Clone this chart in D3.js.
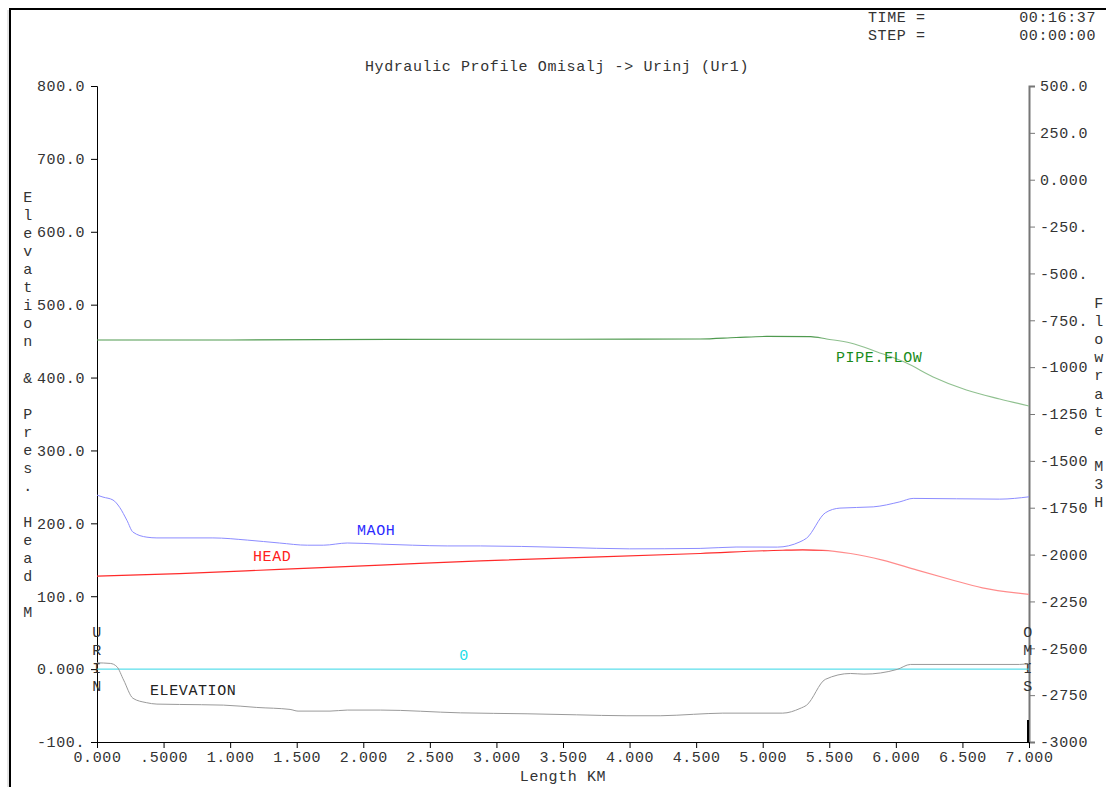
<!DOCTYPE html>
<html>
<head>
<meta charset="utf-8">
<script src="https://cdn.jsdelivr.net/npm/d3@7"></script>
<style>
  html, body { margin: 0; padding: 0; background: #fff; }
  svg { display: block; }
  text { font-family: "Liberation Mono", "Courier New", monospace; font-size: 15px; fill: #333; letter-spacing: 0.6px; }
</style>
</head>
<body>
<svg id="chart" width="1106" height="787"></svg>
<script>
// ---- data ----
const xTickValues = [0, 0.5, 1, 1.5, 2, 2.5, 3, 3.5, 4, 4.5, 5, 5.5, 6, 6.5, 7];
const xTickLabels = ["0.000", ".5000", "1.000", "1.500", "2.000", "2.500", "3.000", "3.500", "4.000", "4.500", "5.000", "5.500", "6.000", "6.500", "7.000"];
const leftTickValues = [-100, 0, 100, 200, 300, 400, 500, 600, 700, 800];
const leftTickLabels = ["-100.", "0.000", "100.0", "200.0", "300.0", "400.0", "500.0", "600.0", "700.0", "800.0"];
const rightTickValues = [-3000, -2750, -2500, -2250, -2000, -1750, -1500, -1250, -1000, -750, -500, -250, 0, 250, 500];
const rightTickLabels = ["-3000", "-2750", "-2500", "-2250", "-2000", "-1750", "-1500", "-1250", "-1000", "-750.", "-500.", "-250.", "0.000", "250.0", "500.0"];

const elevKm = [0, 0.1, 0.15, 0.2, 0.27, 0.37, 0.45, 0.62, 0.95, 1.2, 1.45, 1.51, 1.75, 1.88, 2.13, 2.73, 3.23, 3.6, 3.98, 4.23, 4.48, 4.7, 5.15, 5.28, 5.33, 5.47, 5.66, 5.76, 6.01, 6.11, 6.93, 7.0];
const elevation = [8.6, 7.8, 3.2, -15, -40, -46, -48, -48.5, -49.4, -52.6, -55.3, -57.6, -57.6, -56.2, -56.2, -60, -61.3, -62.7, -64, -64, -62, -60.4, -60.4, -54, -49.4, -14.1, -6, -6.9, -0.4, 6.4, 6.4, 7.8];

const maohKm = [0, 0.045, 0.12, 0.17, 0.225, 0.27, 0.375, 0.45, 0.87, 1.13, 1.37, 1.58, 1.70, 1.88, 2.13, 2.37, 2.63, 2.88, 3.5, 4.0, 4.53, 4.8, 5.11, 5.28, 5.33, 5.47, 5.58, 5.83, 6.03, 6.13, 6.78, 7.0];
const maoh = [238.7, 236, 232, 222, 204, 188, 181, 180, 180, 177, 173, 170, 170, 173, 171.5, 170, 169, 169, 167, 165, 165.6, 167.5, 167.4, 174.6, 179.7, 214.4, 220.9, 222.6, 229.5, 234.2, 233.2, 236.4];

const headKm = [0, 0.62, 1.37, 2.13, 2.88, 4.53, 5.15, 5.3, 5.45, 5.66, 5.9, 6.16, 6.41, 6.65, 7.0];
const head = [127.6, 131, 136.8, 142.6, 148.6, 158.6, 163.1, 163.5, 163, 158.6, 149.5, 135.8, 123, 111.5, 102.5];

const flowKm = [0, 1.0, 2.2, 3.5, 4.53, 4.8, 5.03, 5.36, 5.48, 5.66, 5.86, 6.08, 6.28, 6.53, 6.78, 7.0];
const pipeFlow = [-855, -855, -852, -851, -850, -842, -836, -837, -850, -871, -919, -978, -1052, -1122, -1170, -1207];

const zeroKm = [0, 7];
const zeroLine = [0, 0];

// ---- drawing ----
const svg = d3.select("#chart");
const x = d3.scaleLinear().domain([0, 7]).range([97, 1029]);
const yL = d3.scaleLinear().domain([-100, 800]).range([742, 86]);
const yR = d3.scaleLinear().domain([-3000, 500]).range([742, 86]);

// gradients (bright on flat part, pale on sloped part)
const defs = svg.append("defs");
function grad(id, c1, c2, splitKm) {
  const g = defs.append("linearGradient").attr("id", id).attr("gradientUnits", "userSpaceOnUse")
    .attr("x1", x(0)).attr("x2", x(7)).attr("y1", 0).attr("y2", 0);
  const p = (splitKm / 7) * 100;
  g.append("stop").attr("offset", "0%").attr("stop-color", c1);
  g.append("stop").attr("offset", (p - 1) + "%").attr("stop-color", c1);
  g.append("stop").attr("offset", (p + 1) + "%").attr("stop-color", c2);
  g.append("stop").attr("offset", "100%").attr("stop-color", c2);
}
grad("gHead", "#ff2a2a", "#ff8c8c", 5.45);
grad("gFlow", "#4f9a4f", "#8fc08f", 5.45);

// frame
svg.append("line").attr("x1", 10).attr("y1", 9).attr("x2", 1106).attr("y2", 9).attr("stroke", "#000").attr("stroke-width", 2);
svg.append("line").attr("x1", 10).attr("y1", 8).attr("x2", 10).attr("y2", 787).attr("stroke", "#000").attr("stroke-width", 2);
svg.append("line").attr("x1", 8).attr("y1", 10).attr("x2", 8).attr("y2", 787).attr("stroke", "#ccc").attr("stroke-width", 1);

// header
svg.append("text").attr("x", 868).attr("y", 22).text("TIME =");
svg.append("text").attr("x", 1096).attr("y", 22).attr("text-anchor", "end").text("00:16:37");
svg.append("text").attr("x", 868).attr("y", 40).text("STEP =");
svg.append("text").attr("x", 1096).attr("y", 40).attr("text-anchor", "end").text("00:00:00");
svg.append("text").attr("x", 557).attr("y", 71).attr("text-anchor", "middle").text("Hydraulic Profile Omisalj -> Urinj (Ur1)");

// axes
const leftAxis = d3.axisLeft(yL).tickValues(leftTickValues).tickSize(6).tickPadding(6)
  .tickFormat((d, i) => leftTickLabels[i]);
const gL = svg.append("g").attr("transform", "translate(97,0)").call(leftAxis);
gL.select(".domain").attr("stroke", "#000");
gL.selectAll(".tick line").attr("stroke", "#000");

const rightAxis = d3.axisRight(yR).tickValues(rightTickValues).tickSize(6).tickPadding(5)
  .tickFormat((d, i) => rightTickLabels[i]);
const gR = svg.append("g").attr("transform", "translate(1029,0)").call(rightAxis);
gR.select(".domain").attr("stroke", "#777").attr("stroke-width", 2);
gR.selectAll(".tick line").attr("stroke", "#777");

const bottomAxis = d3.axisBottom(x).tickValues(xTickValues).tickSize(6).tickPadding(3)
  .tickFormat((d, i) => xTickLabels[i]);
const gB = svg.append("g").attr("transform", "translate(0,742)").call(bottomAxis);
gB.select(".domain").attr("stroke", "#000");
gB.selectAll(".tick line").attr("stroke", "#000");

svg.selectAll(".tick text").style("font-family", '"Liberation Mono", "Courier New", monospace').style("font-size", "15px").attr("fill", "#333");

svg.append("text").attr("x", 563).attr("y", 781).attr("text-anchor", "middle").text("Length KM");

// vertical axis titles
const leftTitle = "Elevation & Pres. Head M";
leftTitle.split("").forEach((c, i) => {
  if (c !== " ") svg.append("text").attr("x", 28).attr("y", 202 + i * 18.05).attr("text-anchor", "middle").text(c);
});
const rightTitle = "Flowrate M3H";
rightTitle.split("").forEach((c, i) => {
  if (c !== " ") svg.append("text").attr("x", 1099).attr("y", 308 + i * 18.1).attr("text-anchor", "middle").text(c);
});
"URIN".split("").forEach((c, i) => {
  svg.append("text").attr("x", 97).attr("y", 637 + i * 18).attr("text-anchor", "middle").text(c);
});
"OMIS".split("").forEach((c, i) => {
  svg.append("text").attr("x", 1028).attr("y", 637 + i * 18).attr("text-anchor", "middle").text(c);
});

// series
function drawLine(xs, ys, yScale, color, width) {
  const pts = xs.map((k, i) => [k, ys[i]]);
  const line = d3.line().x(d => x(d[0])).y(d => yScale(d[1])).curve(d3.curveMonotoneX);
  svg.append("path").datum(pts).attr("d", line).attr("fill", "none").attr("stroke", color).attr("stroke-width", width);
}
drawLine(zeroKm, zeroLine, yL, "#33d6e6", 1);
drawLine(elevKm, elevation, yL, "#9a9a9a", 1);
drawLine(maohKm, maoh, yL, "#8c8cff", 1);
drawLine(headKm, head, yL, "url(#gHead)", 1.2);
drawLine(flowKm, pipeFlow, yR, "url(#gFlow)", 1.1);

// marker at right end
svg.append("line").attr("x1", 1028).attr("y1", 720).attr("x2", 1028).attr("y2", 742).attr("stroke", "#000").attr("stroke-width", 2);

// series labels
svg.append("text").attr("x", 836).attr("y", 362).style("fill", "#1a8c1a").text("PIPE.FLOW");
svg.append("text").attr("x", 357).attr("y", 535).style("fill", "#2a2aff").text("MAOH");
svg.append("text").attr("x", 253).attr("y", 561).style("fill", "#ff2020").text("HEAD");
svg.append("text").attr("x", 150).attr("y", 695).style("fill", "#222").text("ELEVATION");
svg.append("text").attr("x", 464).attr("y", 660).attr("text-anchor", "middle").style("fill", "#22dde8").text("0");
</script>
</body>
</html>
